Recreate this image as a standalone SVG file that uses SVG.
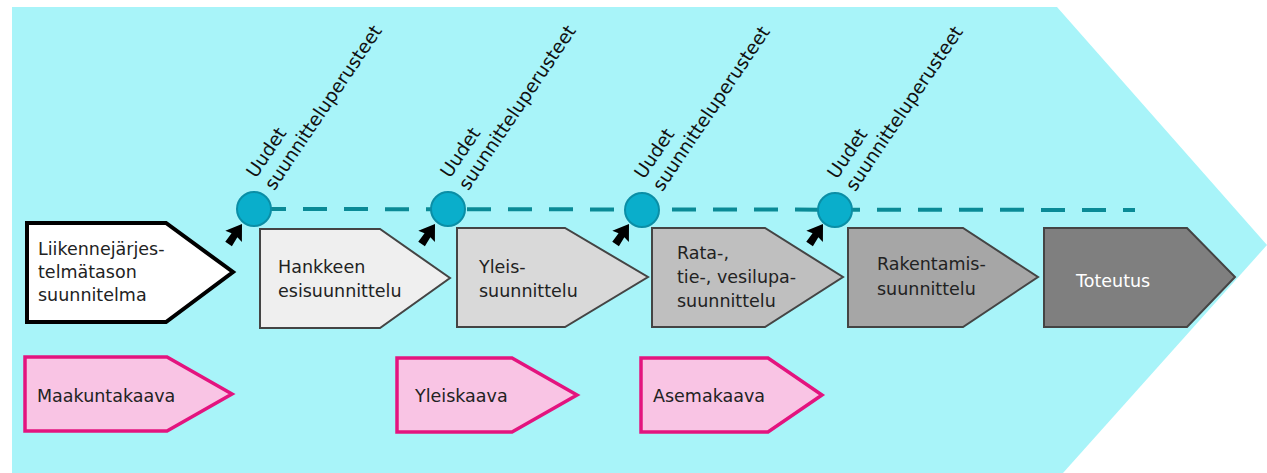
<svg xmlns="http://www.w3.org/2000/svg" width="1267" height="473" viewBox="0 0 1267 473">
<style>
.t{font-family:"DejaVu Sans",Verdana,sans-serif;font-size:17.5px;fill:#222}
.r{font-family:"DejaVu Sans",Verdana,sans-serif;font-size:18.5px;fill:#111}
.g{stroke:#444;stroke-width:2;stroke-linejoin:miter}
.p{fill:#f9c4e4;stroke:#e3147f;stroke-width:3.5}
.c{fill:#0aaecb;stroke:#0a8ea6;stroke-width:2}
</style>
<defs>
<path id="cur" d="M0,0 L10,15 L3.5,13.5 L4,24 L-4,24 L-3.5,13.5 L-10,15 Z" fill="#000"/>
</defs>
<rect width="1267" height="473" fill="#fff"/>
<polygon points="12,7 1057,7 1267,245 1063,473 12,473" fill="#a8f4f9"/>
<g id="connectors">
<line x1="262" y1="209" x2="1135" y2="210" stroke="#0a8a96" stroke-width="4" stroke-dasharray="24,17"/>
<use href="#cur" transform="translate(242,224) rotate(34)"/>
<use href="#cur" transform="translate(435,224) rotate(34)"/>
<use href="#cur" transform="translate(629,224) rotate(34)"/>
<use href="#cur" transform="translate(823,224) rotate(34)"/>
</g>
<g id="m1"><circle class="c" cx="254" cy="209" r="17"/>
<text class="r" transform="translate(256,179) rotate(-56)"><tspan x="0" y="0">Uudet</tspan><tspan x="0" y="22">suunnitteluperusteet</tspan></text></g>
<g id="m2"><circle class="c" cx="448" cy="209" r="17"/>
<text class="r" transform="translate(450,179) rotate(-56)"><tspan x="0" y="0">Uudet</tspan><tspan x="0" y="22">suunnitteluperusteet</tspan></text></g>
<g id="m3"><circle class="c" cx="642" cy="210" r="17"/>
<text class="r" transform="translate(644,180) rotate(-56)"><tspan x="0" y="0">Uudet</tspan><tspan x="0" y="22">suunnitteluperusteet</tspan></text></g>
<g id="m4"><circle class="c" cx="835" cy="210" r="17"/>
<text class="r" transform="translate(837,180) rotate(-56)"><tspan x="0" y="0">Uudet</tspan><tspan x="0" y="22">suunnitteluperusteet</tspan></text></g>
<g id="n1"><polygon points="27,223 166,223 233,272 166,322 27,322" fill="#fff" stroke="#000" stroke-width="4"/>
<text class="t"><tspan x="38" y="255">Liikennejärjes-</tspan><tspan x="38" y="278">telmätason</tspan><tspan x="38" y="301">suunnitelma</tspan></text></g>
<g id="n2"><polygon class="g" points="260,229 380,229 450,278 380,328 260,328" fill="#efefef"/>
<text class="t"><tspan x="278" y="273">Hankkeen</tspan><tspan x="278" y="297">esisuunnittelu</tspan></text></g>
<g id="n3"><polygon class="g" points="457,228 565,228 648,277 565,327 457,327" fill="#d9d9d9"/>
<text class="t"><tspan x="479" y="273">Yleis-</tspan><tspan x="479" y="297">suunnittelu</tspan></text></g>
<g id="n4"><polygon class="g" points="652,228 765,228 843,277 765,327 652,327" fill="#bfbfbf"/>
<text class="t"><tspan x="677" y="259">Rata-,</tspan><tspan x="677" y="283">tie-, vesilupa-</tspan><tspan x="677" y="307">suunnittelu</tspan></text></g>
<g id="n5"><polygon class="g" points="848,228 963,228 1038,277 963,327 848,327" fill="#a6a6a6"/>
<text class="t"><tspan x="877" y="270">Rakentamis-</tspan><tspan x="877" y="295">suunnittelu</tspan></text></g>
<g id="n6"><polygon class="g" points="1044,228 1187,228 1235,277 1187,327 1044,327" fill="#7f7f7f"/>
<text class="t" x="1076" y="287" style="fill:#fff">Toteutus</text></g>
<g id="k1"><polygon class="p" points="25,357 167,357 232,394 167,431 25,431"/>
<text class="t" x="37" y="402">Maakuntakaava</text></g>
<g id="k2"><polygon class="p" points="397,358 512,358 577,395 512,432 397,432"/>
<text class="t" x="415" y="402">Yleiskaava</text></g>
<g id="k3"><polygon class="p" points="641,358 768,358 822,395 768,432 641,432"/>
<text class="t" x="653" y="402">Asemakaava</text></g>
</svg>
